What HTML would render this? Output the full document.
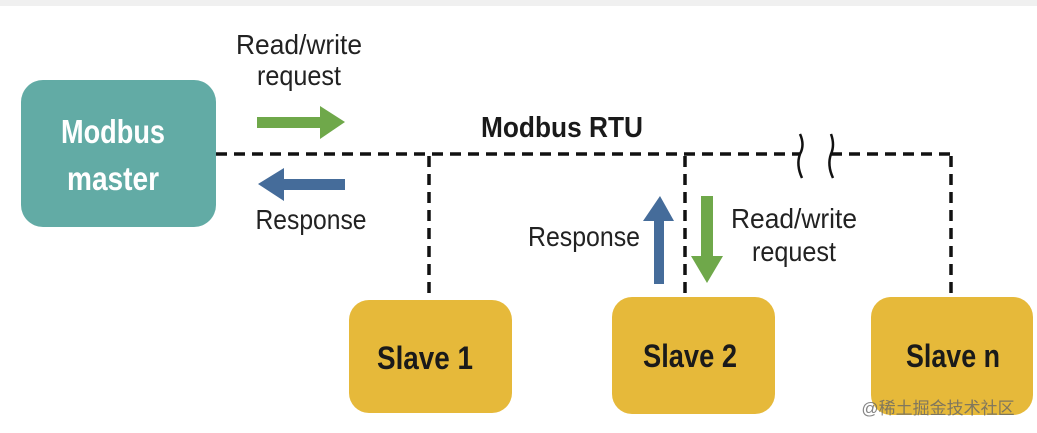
<!DOCTYPE html>
<html><head><meta charset="utf-8"><style>
html,body{margin:0;padding:0;background:#fff;}
svg{display:block;}
text{font-family:"Liberation Sans Narrow","Liberation Sans",sans-serif;}
</style></head><body>
<svg width="1037" height="433" viewBox="0 0 1037 433" xmlns="http://www.w3.org/2000/svg">
<rect x="0" y="0" width="1037" height="6" fill="#f0f0f0"/>
<rect x="21" y="80" width="195" height="147" rx="22" fill="#62aba5"/>
<text x="113" y="143" font-size="33" font-weight="bold" fill="#fff" text-anchor="middle" textLength="104" lengthAdjust="spacingAndGlyphs">Modbus</text>
<text x="113" y="190" font-size="33" font-weight="bold" fill="#fff" text-anchor="middle" textLength="92" lengthAdjust="spacingAndGlyphs">master</text>
<g stroke="#111" stroke-width="3.5" fill="none" stroke-dasharray="11 7">
<line x1="216" y1="154" x2="800" y2="154"/>
<line x1="831" y1="154" x2="952" y2="154"/>
<line x1="429" y1="156" x2="429" y2="299"/>
<line x1="685" y1="156" x2="685" y2="297"/>
<line x1="951" y1="156" x2="951" y2="296"/>
</g>
<g stroke="#111" stroke-width="2.5" fill="none">
<path d="M800 134 Q805 145 800 154 Q796 165 802 178"/>
<path d="M831 134 Q835 145 831 154 Q827 165 833 178"/>
</g>
<rect x="349" y="300" width="163" height="113" rx="20" fill="#e6b93a"/>
<rect x="612" y="297" width="163" height="117" rx="20" fill="#e6b93a"/>
<rect x="871" y="297" width="162" height="118" rx="20" fill="#e6b93a"/>
<text x="425" y="369" font-size="32" font-weight="bold" fill="#1a1a1a" text-anchor="middle" textLength="96" lengthAdjust="spacingAndGlyphs">Slave 1</text>
<text x="690" y="367" font-size="32" font-weight="bold" fill="#1a1a1a" text-anchor="middle" textLength="94" lengthAdjust="spacingAndGlyphs">Slave 2</text>
<text x="953" y="367" font-size="32" font-weight="bold" fill="#1a1a1a" text-anchor="middle" textLength="94" lengthAdjust="spacingAndGlyphs">Slave n</text>
<text x="562" y="137" font-size="29" font-weight="bold" fill="#1a1a1a" text-anchor="middle" textLength="162" lengthAdjust="spacingAndGlyphs">Modbus RTU</text>
<g font-size="28" fill="#222" text-anchor="middle">
<text x="299" y="54" textLength="126" lengthAdjust="spacingAndGlyphs">Read/write</text>
<text x="299" y="85" textLength="84" lengthAdjust="spacingAndGlyphs">request</text>
<text x="311" y="229" textLength="111" lengthAdjust="spacingAndGlyphs">Response</text>
<text x="584" y="246" textLength="112" lengthAdjust="spacingAndGlyphs">Response</text>
<text x="794" y="228" textLength="126" lengthAdjust="spacingAndGlyphs">Read/write</text>
<text x="794" y="261" textLength="84" lengthAdjust="spacingAndGlyphs">request</text>
</g>
<polygon points="257,117 320,117 320,106 345,122 320,139 320,128 257,128" fill="#6fa84a"/>
<polygon points="345,179 284,179 284,168 258,184 284,201 284,190 345,190" fill="#456c9a"/>
<polygon points="654,284 654,221 643,221 660,196 674,221 664,221 664,284" fill="#456c9a"/>
<polygon points="701,196 701,256 691,256 707,283 723,256 713,256 713,196" fill="#6fa84a"/>
<text x="938" y="414" font-size="17" fill="#666" fill-opacity="0.8" text-anchor="middle" style="font-family:'Liberation Sans','Noto Sans CJK SC',sans-serif">@稀土掘金技术社区</text>
</svg>
</body></html>
